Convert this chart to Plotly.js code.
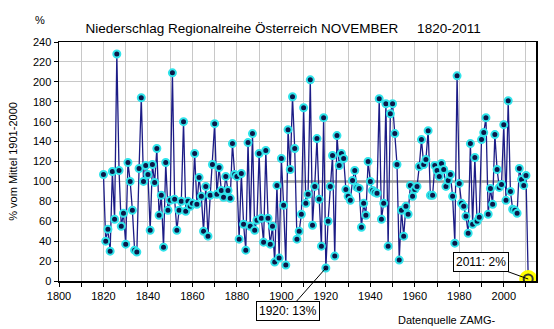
<!DOCTYPE html>
<html>
<head>
<meta charset="utf-8">
<script src="https://cdn.plot.ly/plotly-3.0.1.min.js"></script>
<style>
  html, body { margin: 0; padding: 0; background: #fff; }
  #chart { width: 554px; height: 329px; }
</style>
</head>
<body>
<div id="chart"></div>
<script>
// November precipitation, % of 1901-2000 mean, Austria regional series
const startYear = 1820;
const precipPercent = [
  107, 40, 52, 30, 110, 62, 228, 111, 55, 68,      // 1820-1829
  37, 119, 100, 71, 31, 29, 113, 184, 100, 116,     // 1830-1839
  107, 51, 117, 99, 133, 66, 86, 34, 119, 71,       // 1840-1849
  81, 209, 82, 51, 71, 80, 160, 70, 80, 75,         // 1850-1859
  78, 128, 77, 104, 85, 50, 95, 45, 86, 117,        // 1860-1869
  158, 87, 114, 91, 84, 105, 91, 83, 138, 107,      // 1870-1879
  105, 42, 108, 57, 31, 139, 55, 148, 51, 61,       // 1880-1889
  128, 63, 39, 131, 63, 37, 55, 19, 96, 23,         // 1890-1899
  123, 76, 16, 152, 112, 185, 133, 42, 50, 67,      // 1900-1909
  174, 78, 87, 202, 56, 95, 143, 82, 35, 164,       // 1910-1919
  13, 60, 95, 126, 25, 146, 116, 128, 123, 92,      // 1920-1929
  85, 81, 101, 111, 94, 93, 54, 78, 66, 120,        // 1930-1939
  100, 91, 89, 88, 183, 62, 78, 178, 35, 168,       // 1940-1949
  178, 148, 117, 21, 71, 45, 75, 67, 96, 85,        // 1950-1959
  92, 95, 115, 142, 117, 122, 151, 86, 86, 116,     // 1960-1969
  111, 105, 118, 112, 95, 101, 107, 85, 38, 206,    // 1970-1979
  98, 78, 75, 65, 48, 138, 57, 124, 60, 64,         // 1980-1989
  142, 149, 164, 67, 93, 77, 147, 112, 94, 97,      // 1990-1999
  157, 81, 181, 90, 72, 71, 68, 113, 102, 96,       // 2000-2009
  106, 2                                            // 2010-2011
];
const years = precipPercent.map((_, i) => startYear + i);

// reference period 1901-2000 = 100 %
const meanPeriod = [1901, 2000];
const meanValue = [100, 100];

// x tick labels
const xTickVals = [1800,1810,1820,1830,1840,1850,1860,1870,1880,1890,1900,1910,1920,1930,1940,1950,1960,1970,1980,1990,2000,2010];
const xTickText = ['1800','','1820','','1840','','1860','','1880','','1900','','1920','','1940','','1960','','1980','','2000',''];

const lastIdx = precipPercent.length - 1;
const minIdx = years.indexOf(1920);

const FONT = 'Liberation Sans, Arial, sans-serif';

const traces = [
  {
    x: meanPeriod, y: meanValue, mode: 'lines', type: 'scatter',
    line: { color: '#9a9a9a', width: 2.5 }, hoverinfo: 'skip'
  },
  {
    x: years, y: precipPercent, mode: 'lines+markers', type: 'scatter',
    line: { color: '#1c1c86', width: 1.3 },
    marker: { size: 7, color: '#0c1848', line: { color: '#2fe3ea', width: 2 } }
  },
  {
    x: [years[lastIdx]], y: [precipPercent[lastIdx]], mode: 'markers', type: 'scatter',
    marker: { size: 18, color: '#ffff00' }
  },
  {
    x: [years[lastIdx]], y: [precipPercent[lastIdx]], mode: 'markers', type: 'scatter',
    marker: { size: 9, symbol: 'circle-open', color: '#3a3a30', line: { width: 2 } }
  }
];

const layout = {
  width: 554, height: 329,
  margin: { l: 59, r: 18, t: 42, b: 48, pad: 0 },
  paper_bgcolor: '#ffffff', plot_bgcolor: '#ffffff',
  showlegend: false,
  font: { family: FONT, size: 11, color: '#000' },
  title: {
    text: 'Niederschlag Regionalreihe Österreich NOVEMBER\u00a0\u00a0\u00a0\u00a0\u00a01820-2011',
    font: { family: FONT, size: 13.5, color: '#000' },
    x: 0.511, xref: 'container', xanchor: 'center',
    y: 0.914, yref: 'container', yanchor: 'middle'
  },
  xaxis: {
    range: [1800, 2014.5],
    tickmode: 'array', tickvals: xTickVals, ticktext: xTickText,
    showgrid: true, gridcolor: '#c8c8c8', gridwidth: 1,
    showline: true, linecolor: '#000', linewidth: 1.5, mirror: true,
    ticks: 'outside', ticklen: 4, tickcolor: '#000',
    tickfont: { family: FONT, size: 11, color: '#000' },
    zeroline: false, fixedrange: true
  },
  yaxis: {
    range: [0, 240], dtick: 20, tick0: 0,
    showgrid: true, gridcolor: '#c8c8c8', gridwidth: 1,
    showline: true, linecolor: '#000', linewidth: 1.5, mirror: true,
    ticks: 'outside', ticklen: 4, tickcolor: '#000',
    tickfont: { family: FONT, size: 11, color: '#000' },
    zeroline: false, fixedrange: true
  },
  annotations: [
    {
      xref: 'paper', yref: 'paper', x: -0.098, y: 0.5,
      text: '% vom Mittel 1901-2000', textangle: -90, showarrow: false,
      font: { family: FONT, size: 11, color: '#000' }, xanchor: 'center', yanchor: 'middle'
    },
    {
      xref: 'paper', yref: 'paper', x: -0.04, y: 1.092,
      text: '%', showarrow: false,
      font: { family: FONT, size: 11, color: '#000' }, xanchor: 'center', yanchor: 'middle'
    },
    {
      xref: 'paper', yref: 'paper', x: 0.813, y: -0.163,
      text: 'Datenquelle ZAMG-', showarrow: false,
      font: { family: FONT, size: 11, color: '#000' }, xanchor: 'center', yanchor: 'middle'
    },
    {
      x: years[lastIdx], y: precipPercent[lastIdx],
      text: years[lastIdx] + ': ' + precipPercent[lastIdx] + '%',
      showarrow: true, arrowhead: 0, arrowwidth: 1, arrowcolor: '#000',
      ax: -47, ay: -17,
      bordercolor: '#000', borderwidth: 1, borderpad: 2, bgcolor: '#ffffff',
      font: { family: FONT, size: 12, color: '#000' }
    },
    {
      x: years[minIdx], y: precipPercent[minIdx],
      text: years[minIdx] + ': ' + precipPercent[minIdx] + '%',
      showarrow: true, arrowhead: 0, arrowwidth: 1, arrowcolor: '#000',
      ax: -38, ay: 43,
      bordercolor: '#000', borderwidth: 1, borderpad: 2, bgcolor: '#ffffff',
      font: { family: FONT, size: 12, color: '#000' }
    }
  ]
};

Plotly.newPlot('chart', traces, layout, { displayModeBar: false, staticPlot: true });
</script>
</body>
</html>
